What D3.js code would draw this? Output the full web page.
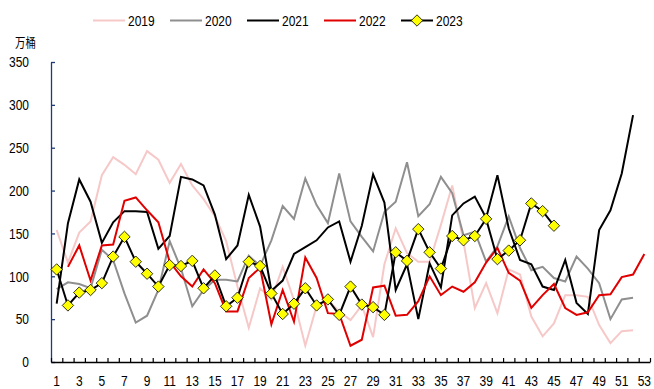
<!DOCTYPE html>
<html><head><meta charset="utf-8">
<script src="https://cdn.jsdelivr.net/npm/d3@7/dist/d3.min.js"></script>
<style>
html,body{margin:0;padding:0;background:#fff;}
svg{display:block;font-family:"Liberation Sans",Arial,sans-serif;}
</style></head>
<body>
<svg id="chart" width="654" height="389"></svg>
<script>
// ---- data ----
const weeks = d3.range(1, 54);
const xTickLabels = [1,3,5,7,9,11,13,15,17,19,21,23,25,27,29,31,33,35,37,39,41,43,45,47,49,51,53];
const yTicks = [0,50,100,150,200,250,300,350];
const unitLabel = "万桶";
const seriesNames = ["2019","2020","2021","2022","2023"];
const s2019 = [154,116,151,164,218,239,230,219,246,236,209,231,206,190,170,141,88,40,86,73,111,72,19,65,72,59,49,66,29,114,156,127,117,117,160,206,140,63,92,57,108,102,53,30,45,78,78,76,43,22,36,37];
const s2020 = [85,93,91,86,131,119,80,46,54,84,141,109,65,84,96,96,94,124,112,142,182,167,214,183,162,220,164,146,129,175,187,233,170,184,216,197,148,152,117,135,170,133,107,111,98,94,123,109,92,50,73,75];
const s2021 = [68,162,213,187,139,163,176,176,175,132,147,216,213,206,172,120,136,195,158,83,95,126,134,142,157,164,117,159,219,186,84,114,50,115,87,171,185,193,168,218,156,119,114,88,84,119,69,56,154,177,220,288];
const s2022 = [null,111,136,95,136,137,188,192,177,163,117,100,88,108,92,59,59,98,110,44,84,47,122,98,57,56,19,26,87,89,54,55,71,100,78,88,82,93,116,133,104,95,63,78,91,63,55,58,78,79,99,102,126];
const s2023 = [108,66,81,84,92,123,146,117,103,88,113,112,118,86,101,65,75,117,112,80,56,68,86,66,73,55,88,67,64,55,128,118,155,128,109,147,142,147,167,120,130,142,185,176,159];

const colors = {"2019":"#f6c8c8","2020":"#8f8f8f","2021":"#000000","2022":"#e00000","2023":"#000000"};
const SX = 0.8;
const FS = 15;

const svg = d3.select("#chart");
const pLeft = 51, pRight = 650, pTop = 62, pBottom = 362;

const xb = d3.scaleBand().domain(weeks).range([pLeft, pRight]);
const xc = w => xb(w) + xb.bandwidth() / 2;
const xEdge = d3.scaleLinear().domain([0, weeks.length]).range([pLeft, pRight]);
const y = d3.scaleLinear().domain([0, 350]).range([pBottom, pTop]);

// y axis
const gy = svg.append("g").attr("transform", `translate(${pLeft},0)`)
  .call(d3.axisLeft(y).tickValues(yTicks).tickSizeInner(-4).tickSizeOuter(0).tickPadding(22));
gy.select(".domain").attr("stroke", "#1f3a7a").attr("stroke-width", 1.3);
gy.selectAll(".tick line").attr("stroke", "#1f3a7a").attr("stroke-width", 1.3);
gy.selectAll("text").attr("font-size", FS).attr("fill", "#000").attr("font-family", "Liberation Sans, Arial, sans-serif");

// x axis edge ticks
const gxe = svg.append("g").attr("transform", `translate(0,${pBottom})`)
  .call(d3.axisBottom(xEdge).tickValues(d3.range(0, weeks.length + 1)).tickSizeInner(-4).tickSizeOuter(0).tickFormat(""));
gxe.select(".domain").attr("stroke", "#000").attr("stroke-width", 1.5);
gxe.selectAll(".tick line").attr("stroke", "#000").attr("stroke-width", 1.2);

// x labels
const gx = svg.append("g").attr("transform", `translate(0,${pBottom})`)
  .call(d3.axisBottom(xb).tickValues(xTickLabels).tickSize(0).tickPadding(13));
gx.select(".domain").remove();
gx.selectAll("text").attr("font-size", FS).attr("fill", "#000").attr("font-family", "Liberation Sans, Arial, sans-serif");

// unit label
svg.append("text").attr("x", 15).attr("y", 47).attr("font-size", 13)
  .attr("font-family", "Noto Sans CJK SC, sans-serif").text(unitLabel);

// lines
const line = d3.line().defined(d => d.v != null).x(d => xc(d.w)).y(d => y(d.v));
const toPts = arr => arr.map((v, i) => ({w: weeks[i], v}));
const data = {"2019": s2019, "2020": s2020, "2021": s2021, "2022": s2022, "2023": s2023};
seriesNames.forEach(name => {
  svg.append("path").datum(toPts(data[name])).attr("d", line)
    .attr("fill", "none").attr("stroke", colors[name]).attr("stroke-width", 2)
    .attr("stroke-linejoin", "miter");
});
const diamond = "M0,-5.7L5.7,0L0,5.7L-5.7,0Z";
svg.append("g").selectAll("path").data(toPts(s2023)).join("path")
  .attr("d", diamond).attr("transform", d => `translate(${xc(d.w)},${y(d.v)})`)
  .attr("fill", "#ffff00").attr("stroke", "#000").attr("stroke-width", 0.8);

// legend
const lg = svg.append("g");
seriesNames.forEach((name, i) => {
  const x0 = 93 + i * 77, yy = 20.5;
  lg.append("line").attr("x1", x0).attr("x2", x0 + 32).attr("y1", yy).attr("y2", yy)
    .attr("stroke", colors[name]).attr("stroke-width", 2);
  if (name === "2023") {
    lg.append("path").attr("d", diamond).attr("transform", `translate(${x0 + 16},${yy})`)
      .attr("fill", "#ffff00").attr("stroke", "#000").attr("stroke-width", 0.8);
  }
  lg.append("text").attr("x", x0 + 35).attr("y", yy + 5.5)
    .attr("font-size", FS).attr("text-anchor", "start").text(name);
});

// condense all text horizontally
svg.selectAll("text").each(function() {
  const t = d3.select(this);
  const x = +(t.attr("x") || 0);
  t.attr("x", x / SX).attr("transform", `scale(${SX},1)`);
});
</script>
</body></html>
